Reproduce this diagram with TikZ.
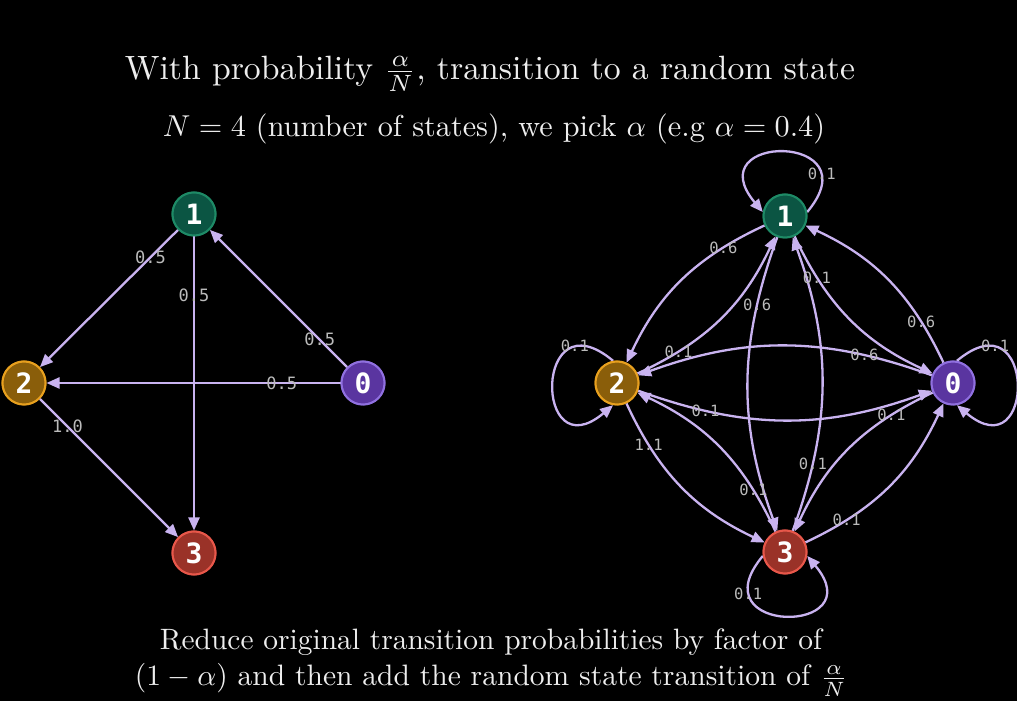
\documentclass[tikz,border=0pt]{standalone}
\usepackage{fontspec}
\usepackage{graphicx}
\newfontfamily\monofont{DejaVu Sans Mono}
\usetikzlibrary{arrows.meta}
\definecolor{edgec}{HTML}{C9B3F0}
\definecolor{labc}{HTML}{BBBBBB}
\definecolor{titlec}{HTML}{EEEEEE}
\definecolor{gfill}{HTML}{0B5543}
\definecolor{gdraw}{HTML}{1E8A66}
\definecolor{ofill}{HTML}{8A5E0A}
\definecolor{odraw}{HTML}{E8A01E}
\definecolor{pfill}{HTML}{5A35A0}
\definecolor{pdraw}{HTML}{9070E0}
\definecolor{rfill}{HTML}{9A3228}
\definecolor{rdraw}{HTML}{E8574A}
\begin{document}
\begin{tikzpicture}[x=1pt,y=1pt,
  state/.style={circle, minimum size=43pt, inner sep=0pt, line width=2pt, text=white,
    font=\monofont\bfseries\fontsize{28}{28}\selectfont},
  sgreen/.style={state, fill=gfill, draw=gdraw},
  sorange/.style={state, fill=ofill, draw=odraw},
  spurple/.style={state, fill=pfill, draw=pdraw},
  sred/.style={state, fill=rfill, draw=rdraw},
  trans/.style={draw=edgec, line width=2.3pt, -{Triangle[length=13pt,width=11pt]}},
  lab/.style={text=labc, inner sep=0pt, font=\monofont\fontsize{17}{17}\selectfont},
  rlab/.style={text=labc, inner sep=0pt, font=\monofont\fontsize{15.5}{15.5}\selectfont},
  ttl/.style={anchor=base, inner sep=0pt, text=titlec},
]
\fill[black] (0,0) rectangle (1017,701);
\useasboundingbox (0,0) rectangle (1017,701);

% titles
\node[ttl] (t1) at (490,621) {\resizebox{730pt}{!}{With probability $\frac{\alpha}{N}$, transition to a random state}};
\node[ttl] (t2) at (494,564) {\resizebox{662pt}{!}{$N = 4$ (number of states), we pick $\alpha$ (e.g $\alpha = 0.4$)}};
\node[ttl] (b1) at (491,51) {\resizebox{662pt}{!}{Reduce original transition probabilities by factor of}};
\node[ttl] (b2) at (491.5,15) {\resizebox{713pt}{!}{$(1-\alpha)$ and then add the random state transition of $\frac{\alpha}{N}$}};

% left graph nodes
\node[sgreen]  (L1) at (194,487) {1};
\node[sorange] (L2) at (24,318) {2};
\node[spurple] (L0) at (363,318) {0};
\node[sred]    (L3) at (194,148) {3};

\draw[trans] (L1) -- node[lab,pos=0.2]{0.5} (L2);
\draw[trans] (L1) -- node[lab,pos=0.2]{0.5} (L3);
\draw[trans] (L0) -- node[lab,pos=0.2]{0.5} (L1);
\draw[trans] (L0) -- node[lab,pos=0.2]{0.5} (L2);
\draw[trans] (L2) -- node[lab,pos=0.2]{1.0} (L3);

% right graph nodes
\node[sgreen]  (R1) at (785,485) {1};
\node[sorange] (R2) at (617,318) {2};
\node[spurple] (R0) at (953,318) {0};
\node[sred]    (R3) at (785,149) {3};

\draw[trans] (R1) to[bend right=20] node[rlab,pos=0.22]{0.6} (R2);
\draw[trans] (R2) to[bend right=20] node[rlab,pos=0.22]{0.1} (R1);
\draw[trans] (R1) to[bend right=20] node[rlab,pos=0.22]{0.6} (R3);
\draw[trans] (R3) to[bend right=20] node[rlab,pos=0.22]{0.1} (R1);
\draw[trans] (R1) to[bend right=20] node[rlab,pos=0.22]{0.1} (R0);
\draw[trans] (R0) to[bend right=20] node[rlab,pos=0.22]{0.6} (R1);
\draw[trans] (R0) to[bend right=20] node[rlab,pos=0.22]{0.6} (R2);
\draw[trans] (R2) to[bend right=20] node[rlab,pos=0.22]{0.1} (R0);
\draw[trans] (R2) to[bend right=20] node[rlab,pos=0.22]{1.1} (R3);
\draw[trans] (R3) to[bend right=20] node[rlab,pos=0.22]{0.1} (R2);
\draw[trans] (R0) to[bend right=20] node[rlab,pos=0.22]{0.1} (R3);
\draw[trans] (R3) to[bend right=20] node[rlab,pos=0.22]{0.1} (R0);

% self loops
\draw[trans] (R1.10) .. controls +(50:104) and +(130:104) .. node[rlab,pos=0.2]{0.1} (R1.170);
\draw[trans] (R2.100) .. controls +(140:104) and +(220:104) .. node[rlab,pos=0.2]{0.1} (R2.260);
\draw[trans] (R3.190) .. controls +(230:104) and +(310:104) .. node[rlab,pos=0.2]{0.1} (R3.350);
\draw[trans] (R0.80) .. controls +(40:104) and +(-40:104) .. node[rlab,pos=0.2]{0.1} (R0.280);

% redraw nodes on top of edges
\node[sgreen]  at (L1) {1};
\node[sorange] at (L2) {2};
\node[spurple] at (L0) {0};
\node[sred]    at (L3) {3};
\node[sgreen]  at (R1) {1};
\node[sorange] at (R2) {2};
\node[spurple] at (R0) {0};
\node[sred]    at (R3) {3};
\end{tikzpicture}
\end{document}
